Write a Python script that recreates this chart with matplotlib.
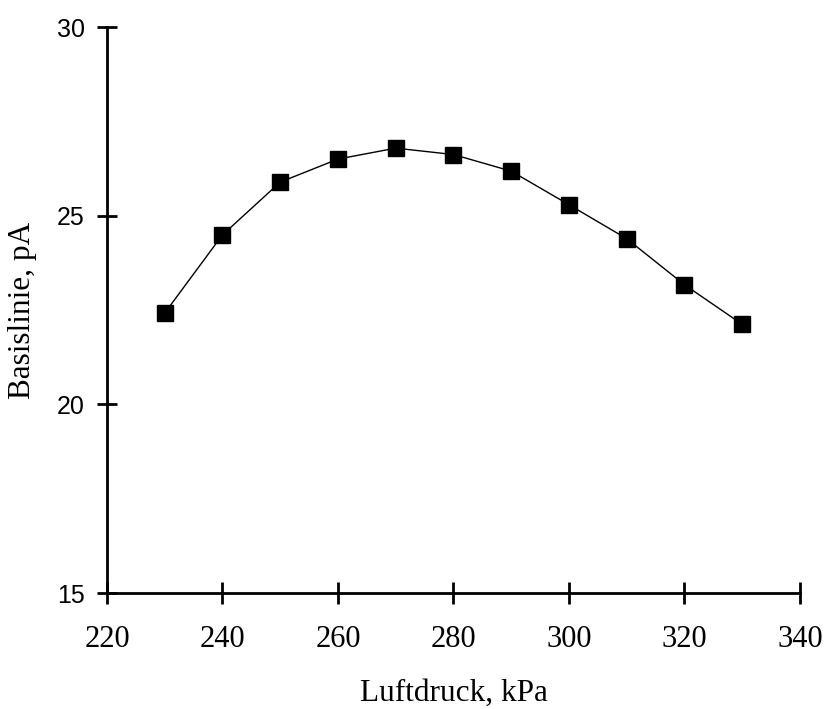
import matplotlib.pyplot as plt

# Luftdruck vs. Basislinie
pressure = [230, 240, 250, 260, 270, 280, 290, 300, 310, 320, 330]
baseline = [22.42, 24.49, 25.89, 26.5, 26.79, 26.62, 26.18, 25.29, 24.39, 23.17, 22.12]

fig = plt.figure(figsize=(8.26, 7.09), dpi=100)
ax = fig.add_axes([0.1295, 0.1636, 0.839, 0.7983])

ax.plot(pressure, baseline, color='black', linewidth=1, marker='s',
        markersize=11, markerfacecolor='black', markeredgecolor='black')

ax.set_xlim(220, 340)
ax.set_ylim(15, 30)
ax.set_xticks(range(220, 341, 20))
ax.set_yticks([15, 20, 25, 30])

for side in ['top', 'right']:
    ax.spines[side].set_visible(False)
for side in ['left', 'bottom']:
    ax.spines[side].set_linewidth(2)

ax.tick_params(axis='x', direction='inout', length=16, width=2, pad=15,
               labelsize=22, labelfontfamily='Liberation Serif')
ax.tick_params(axis='y', direction='inout', length=14, width=2, pad=9,
               labelsize=18, labelfontfamily='Liberation Sans')

ax.set_xlabel('Luftdruck, kPa', family='Liberation Serif', fontsize=22.5, labelpad=18)
ax.set_ylabel('Basislinie, pA', family='Liberation Serif', fontsize=22.5, labelpad=14)

fig.savefig('out.png', dpi=100)
